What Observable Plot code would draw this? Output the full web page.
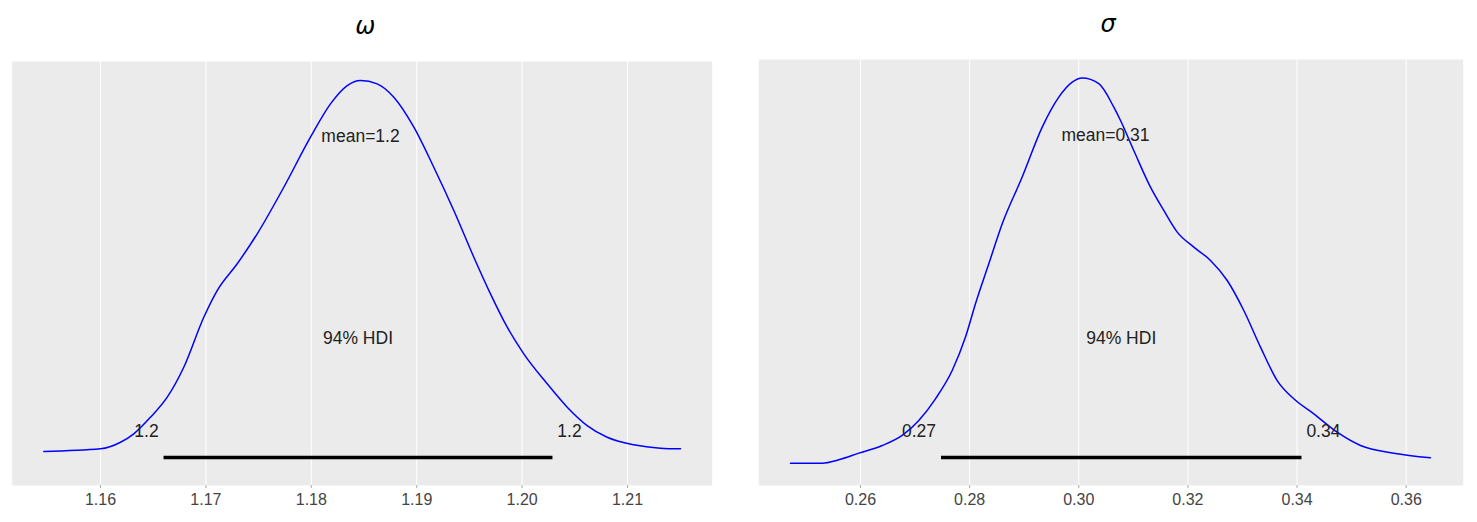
<!DOCTYPE html>
<html><head><meta charset="utf-8">
<script src="https://cdn.jsdelivr.net/npm/d3@7"></script>
<script src="https://cdn.jsdelivr.net/npm/@observablehq/plot@0.6"></script>
<style>
body{margin:0;background:#fff;}
#wrap{position:relative;width:1477px;height:522px;overflow:hidden}
#wrap svg{position:absolute;top:0}
</style></head><body><div id="wrap"></div>
<script>
// ---- omega posterior (KDE) ----
const omegaX = [1.15462,1.16000,1.16190,1.16316,1.16474,1.16633,1.16790,1.16980,1.17107,1.17297,1.17487,1.17739,1.17992,1.18182,1.18341,1.18467,1.18625,1.18783,1.18973,1.19162,1.19352,1.19542,1.19700,1.19859,1.20016,1.20238,1.20428,1.20617,1.20807,1.21060,1.21313,1.21503];
const omegaDensity = [1.50,1.78,2.48,3.37,5.13,7.26,10.44,15.74,18.57,21.41,24.59,29.53,34.84,38.38,40.32,40.85,40.50,39.08,35.90,31.65,27.06,22.11,18.22,14.68,11.86,8.68,6.20,4.25,3.01,2.21,1.85,1.78];
const omegaHdi = [1.16598, 1.20288];
const omegaHdiLabels = ["1.2", "1.2"];
const omegaMean = 1.18467;
const omegaMeanLabel = "mean=1.2";
const omegaTicks = [1.16, 1.17, 1.18, 1.19, 1.20, 1.21];
const omegaTickLabels = ["1.16", "1.17", "1.18", "1.19", "1.20", "1.21"];
const omegaXDomain = [1.151622, 1.218036];
const omegaYDomain = [-2.11, 42.87];

// ---- sigma posterior ----
const sigmaX = [0.24717,0.25298,0.25602,0.25969,0.26398,0.26764,0.27068,0.27374,0.27680,0.27924,0.28107,0.28351,0.28597,0.28963,0.29330,0.29634,0.29879,0.30063,0.30367,0.30642,0.30765,0.31008,0.31314,0.31558,0.31804,0.32108,0.32414,0.32720,0.33024,0.33330,0.33636,0.33940,0.34307,0.34735,0.35163,0.35773,0.36445];
const sigmaDensity = [0.14,0.14,0.34,0.73,1.18,1.77,2.65,3.92,5.58,7.54,9.50,11.84,14.19,16.93,19.86,21.62,22.50,22.74,22.41,21.03,20.25,18.49,16.34,14.97,13.70,12.82,12.04,10.86,9.10,6.95,4.99,3.92,3.04,1.96,1.18,0.73,0.46];
const sigmaHdi = [0.27475, 0.34081];
const sigmaHdiLabels = ["0.27", "0.34"];
const sigmaMean = 0.30490;
const sigmaMeanLabel = "mean=0.31";
const sigmaTicks = [0.26, 0.28, 0.30, 0.32, 0.34, 0.36];
const sigmaTickLabels = ["0.26", "0.28", "0.30", "0.32", "0.34", "0.36"];
const sigmaXDomain = [0.241363, 0.370445];
const sigmaYDomain = [-1.168, 23.83];

const hdiText = "94% HDI";
const titles = ["ω", "σ"];

function panel(o) {
  const T = o.yDomain[1];
  const data = o.xs.map((x, i) => ({x, y: o.ys[i]}));
  const textStyle = {fontSize: 17.5, fill: "#222", lineAnchor: "bottom"};
  return Plot.plot({
    width: o.width, height: 522,
    marginLeft: o.ml, marginRight: o.mr, marginTop: o.mt, marginBottom: 37,
    style: {fontFamily: "'Liberation Sans', Arial, sans-serif", fontSize: "17.5px", background: "transparent", overflow: "visible"},
    x: {domain: o.xDomain, label: null},
    y: {domain: o.yDomain, axis: null},
    marks: [
      Plot.frame({fill: "#EBEBEB", stroke: null}),
      Plot.gridX({ticks: o.ticks, stroke: "white", strokeOpacity: 1, strokeWidth: 1}),
      Plot.axisX({ticks: o.ticks, tickSize: 3, stroke: "#aaa", tickFormat: () => "", label: null}),
      Plot.axisX({ticks: o.ticks, tickSize: 0, tickPadding: 8, fill: "#444", fontSize: 16,
        tickFormat: d => o.tickLabels[o.ticks.indexOf(d)], label: null}),
      Plot.line(data, {x: "x", y: "y", stroke: "#0000ff", strokeWidth: 1.5, curve: "monotone-x"}),
      Plot.line(o.hdi.map(x => ({x, y: 0.02 * T})), {x: "x", y: "y", stroke: "black", strokeWidth: 3.6, strokeLinecap: "butt"}),
      Plot.text([o.meanLabel], {x: () => o.mean, y: () => 0.8 * T, text: d => d, textAnchor: "middle", ...textStyle}),
      Plot.text([o.hdiLabels[0]], {x: () => o.hdi[0], y: () => 0.07 * T, text: d => d, textAnchor: "end", dx: -4.9, ...textStyle}),
      Plot.text([o.hdiLabels[1]], {x: () => o.hdi[1], y: () => 0.07 * T, text: d => d, textAnchor: "start", dx: 4.9, ...textStyle}),
      Plot.text([hdiText], {x: () => (o.hdi[0] + o.hdi[1]) / 2, y: () => 0.3 * T, text: d => d, textAnchor: "middle", ...textStyle}),
      Plot.text([o.title], {frameAnchor: "top", dy: -28, dx: o.titleDx, lineAnchor: "bottom", text: d => d,
        fontSize: 24, fontStyle: "italic", fontFamily: "'DejaVu Sans', sans-serif", fill: "black"})
    ]
  });
}

const wrap = document.getElementById("wrap");
const left = panel({xs: omegaX, ys: omegaDensity, hdi: omegaHdi, hdiLabels: omegaHdiLabels, mean: omegaMean,
  meanLabel: omegaMeanLabel, ticks: omegaTicks, tickLabels: omegaTickLabels, xDomain: omegaXDomain,
  yDomain: omegaYDomain, title: titles[0], titleDx: 3, width: 740, ml: 11.7, mr: 28.3, mt: 61});
left.style.left = "0px";
wrap.appendChild(left);
const right = panel({xs: sigmaX, ys: sigmaDensity, hdi: sigmaHdi, hdiLabels: sigmaHdiLabels, mean: sigmaMean,
  meanLabel: sigmaMeanLabel, ticks: sigmaTicks, tickLabels: sigmaTickLabels, xDomain: sigmaXDomain,
  yDomain: sigmaYDomain, title: titles[1], titleDx: -3, width: 737, ml: 18.3, mr: 14.3, mt: 59});
right.style.left = "740px";
wrap.appendChild(right);
</script></body></html>
